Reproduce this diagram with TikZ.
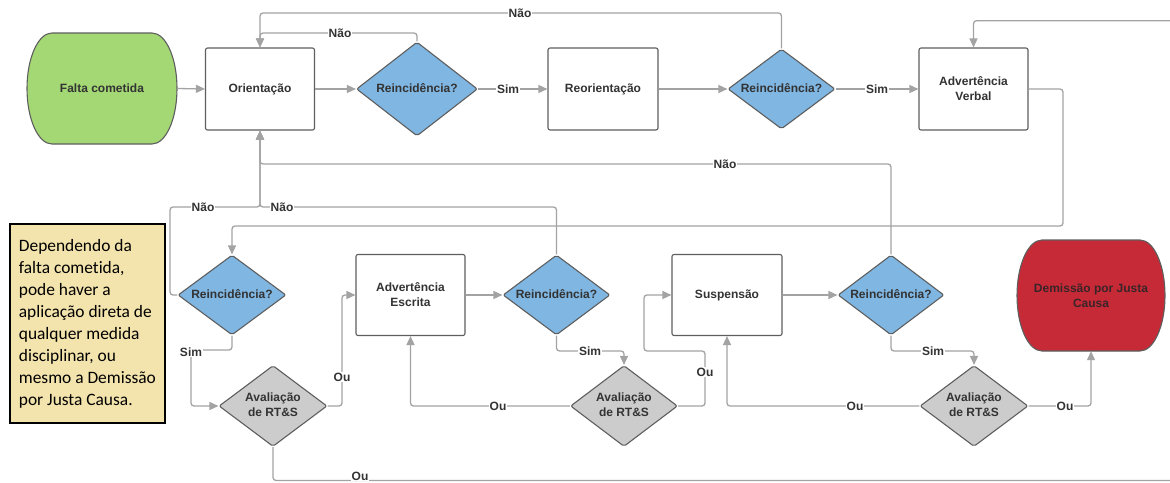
\documentclass[tikz,border=0pt]{standalone}
\usepackage{fontspec}
\setmainfont{Liberation Sans}
\newfontfamily\notefont[Ligatures=NoCommon]{Carlito}
\usetikzlibrary{shapes.geometric,arrows.meta}
\definecolor{linegray}{HTML}{A3A3A3}
\definecolor{bordergray}{HTML}{5E5E5E}
\definecolor{textgray}{HTML}{333333}
\definecolor{startgreen}{HTML}{A3D874}
\definecolor{diablue}{HTML}{7FB6E2}
\definecolor{diagray}{HTML}{CCCCCC}
\definecolor{endred}{HTML}{C62A37}
\definecolor{endtext}{HTML}{3A2428}
\definecolor{notefill}{HTML}{F3E3AC}
\tikzset{
  txt/.style={font=\fontsize{12}{15}\selectfont\bfseries, text=textgray},
  box/.style={txt, draw=bordergray, line width=1.1pt, rounded corners=2pt, fill=white,
    minimum width=109pt, minimum height=82pt, align=center, inner sep=2pt},
  dia/.style={txt, diamond, draw=bordergray, line width=1.1pt, rounded corners=2pt,
    inner sep=0pt, minimum width=107pt, minimum height=80pt},
  qdia/.style={dia, fill=diablue},
  adia/.style={dia, fill=diagray, minimum width=108pt, minimum height=81pt},
  term/.style={txt, minimum width=150pt, minimum height=111pt, align=center, inner sep=2pt},
  termline/.style={draw=bordergray, line width=1.1pt},
  conn/.style={draw=linegray, line width=1.3pt, rounded corners=3pt,
    -{Triangle[length=9pt,width=8pt]}},
  lbl/.style={txt, fill=white, inner sep=1pt},
  notebox/.style={draw=black, line width=1.8pt, fill=notefill, text=black,
    font=\notefont\fontsize{17.4}{22}\selectfont, align=left,
    minimum width=155pt, minimum height=199pt, inner sep=0pt}
}
\newcommand{\zw}[1]{\makebox[0pt]{\begin{tabular}{@{}c@{}}#1\end{tabular}}}
% terminator outline: center x, center y, half width, half height, side radius
\newcommand{\termpath}[5]{%
  (#1-#3+#5,#2-#4) -- (#1+#3-#5,#2-#4)
  .. controls (#1+#3-0.4477*#5,#2-#4) and (#1+#3,#2-0.5523*#4) .. (#1+#3,#2)
  .. controls (#1+#3,#2+0.5523*#4) and (#1+#3-0.4477*#5,#2+#4) .. (#1+#3-#5,#2+#4)
  -- (#1-#3+#5,#2+#4)
  .. controls (#1-#3+0.4477*#5,#2+#4) and (#1-#3,#2+0.5523*#4) .. (#1-#3,#2)
  .. controls (#1-#3,#2-0.5523*#4) and (#1-#3+0.4477*#5,#2-#4) .. (#1-#3+#5,#2-#4) -- cycle}
\begin{document}
\begin{tikzpicture}[x=1pt,y=-1pt]
\useasboundingbox (0,0) rectangle (1170,482);
% terminator outlines
\path[termline, fill=startgreen] \termpath{102}{88.5}{75}{55.5}{25};
\path[termline, fill=endred] \termpath{1091}{295.5}{74}{55.5}{25};
% top row
\node[term] (falta) at (102,88.5) {Falta cometida};
\node[box] (orient) at (260,89) {Orientação};
\node[qdia, minimum width=121pt, minimum height=94pt] (d1) at (417,89) {\zw{Reincidência?}};
\node[box, minimum width=110pt] (reorient) at (603,89) {Reorientação};
\node[qdia] (d2) at (781.5,89) {\zw{Reincidência?}};
\node[box] (verbal) at (973.5,89) {Advertência\\Verbal};
% second row
\node[qdia, minimum width=108pt] (d3) at (232,295) {\zw{Reincidência?}};
\node[box, minimum height=81pt] (escrita) at (410.5,295) {Advertência\\Escrita};
\node[qdia] (d4) at (556.5,295) {\zw{Reincidência?}};
\node[box, minimum width=110pt, minimum height=81pt] (susp) at (727,295) {Suspensão};
\node[qdia, minimum width=106pt] (d5) at (891,295) {\zw{Reincidência?}};
\node[term, text=endtext, minimum width=148pt] (demissao) at (1091,295.5) {Demissão por Justa\\Causa};
% third row
\node[adia] (aval1) at (273,406) {\zw{Avaliação\\de RT\&S}};
\node[adia, minimum width=107pt] (aval2) at (624,406) {\zw{Avaliação\\de RT\&S}};
\node[adia] (aval3) at (974,406) {\zw{Avaliação\\de RT\&S}};
% note
\node[notebox, anchor=north west] (note) at (9,223) {Dependendo da\\falta cometida,\\pode haver a\\aplicação direta de\\qualquer medida\\disciplinar, ou\\mesmo a Demissão\\por Justa Causa.};
% connectors
\draw[conn] (falta.east) -- (orient.west);
\draw[conn] (orient.east) -- (d1.west);
\draw[conn] (d1.east) -- (reorient.west);
\draw[conn] (reorient.east) -- (d2.west);
\draw[conn] (d2.east) -- (verbal.west);
\draw[conn] (d2.north) |- (260,13) -- (orient.north);
\draw[conn] (d1.north) |- (260,33) -- (orient.north);
\draw[conn] (verbal.east) -| (1063,226) -| (d3.north);
\draw[conn] (d3.west) -| (170,207) -| (orient.south);
\draw[conn] (d4.north) |- (260,207) -- (orient.south);
\draw[conn] (d5.north) |- (260,164) -- (orient.south);
\draw[conn] (d3.south) |- (191,350) |- (aval1.west);
\draw[conn] (aval1.east) -| (342,295) -- (escrita.west);
\draw[conn] (aval1.south) -- (273,480.5) -- (1185,480.5) -- (1185,20.7) -| (verbal.north);
\draw[conn] (escrita.east) -- (d4.west);
\draw[conn] (d4.south) |- (624,351) -- (aval2.north);
\draw[conn] (aval2.west) -| (escrita.south);
\draw[conn] (aval2.east) -| (705,351) -| (644,295) -- (susp.west);
\draw[conn] (susp.east) -- (d5.west);
\draw[conn] (d5.south) |- (974,351) -- (aval3.north);
\draw[conn] (aval3.west) -| (susp.south);
\draw[conn] (aval3.east) -| (demissao.south);
% labels
\node[lbl] (l1) at (340,33) {Não};
\node[lbl] (l2) at (520,13) {Não};
\node[lbl] (l3) at (508,89) {Sim};
\node[lbl] (l4) at (877,89) {Sim};
\node[lbl] (l5) at (203,207) {Não};
\node[lbl] (l6) at (282,207) {Não};
\node[lbl] (l7) at (725,164) {Não};
\node[lbl] (l8) at (191,352) {Sim};
\node[lbl] (l9) at (342,377) {Ou};
\node[lbl] (l10) at (360,476) {Ou};
\node[lbl] (l11) at (590,351) {Sim};
\node[lbl] (l12) at (498,406) {Ou};
\node[lbl] (l13) at (705,372) {Ou};
\node[lbl] (l14) at (933,351) {Sim};
\node[lbl] (l15) at (855,406) {Ou};
\node[lbl] (l16) at (1065,406) {Ou};
\end{tikzpicture}
\end{document}
